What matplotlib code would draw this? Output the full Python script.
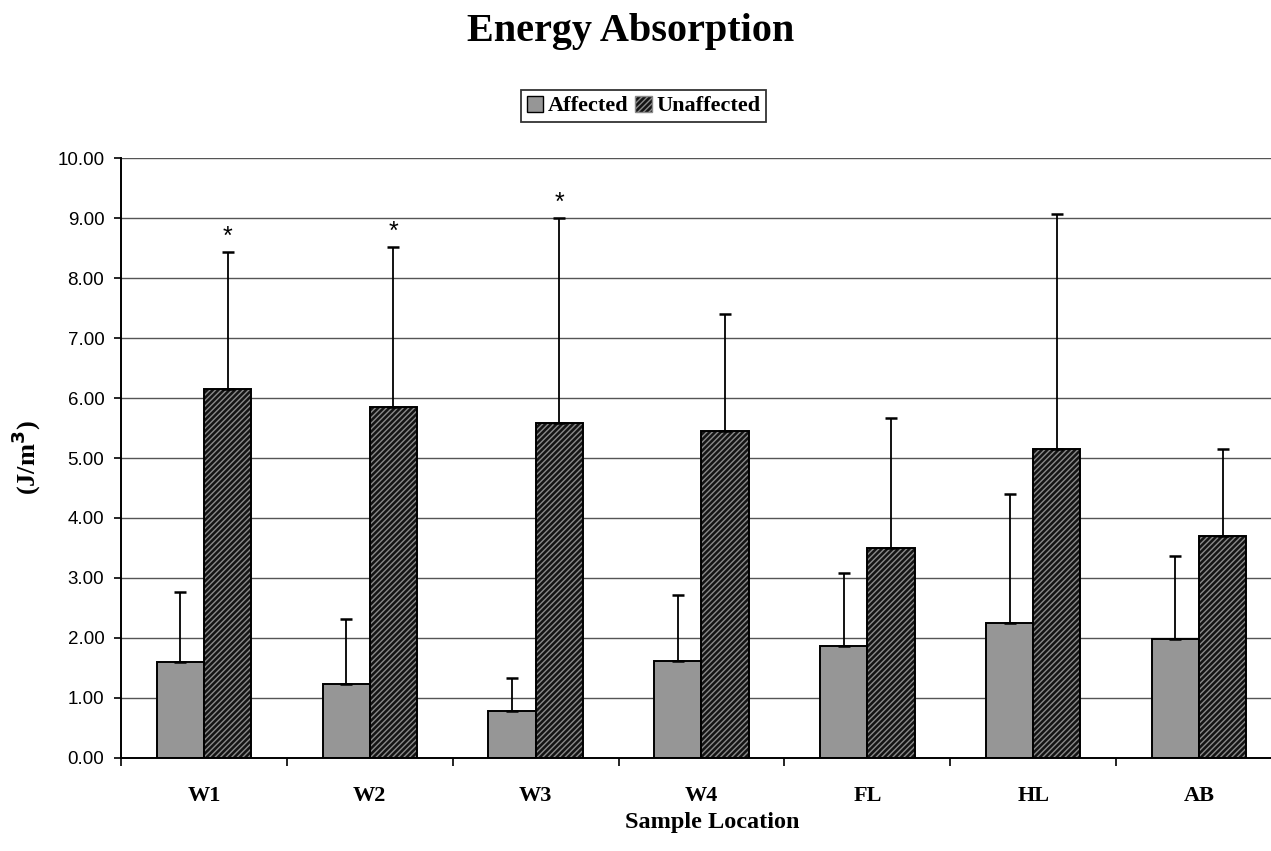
import numpy as np
import matplotlib
matplotlib.use('Agg')
import matplotlib.pyplot as plt
from matplotlib.patches import Patch

locations = ['W1', 'W2', 'W3', 'W4', 'FL', 'HL', 'AB']
affected = [1.60, 1.23, 0.78, 1.62, 1.87, 2.25, 1.98]
affected_err = [1.16, 1.08, 0.55, 1.10, 1.21, 2.15, 1.39]
unaffected = [6.15, 5.85, 5.58, 5.45, 3.50, 5.15, 3.70]
unaffected_err = [2.28, 2.67, 3.42, 1.95, 2.16, 3.92, 1.45]
significant = [True, True, True, False, False, False, False]

serif = 'Liberation Serif'
sans = 'Liberation Sans'
plt.rcParams['hatch.linewidth'] = 1.0

fig = plt.figure(figsize=(12.71, 8.51), dpi=100)
ax = fig.add_axes([121/1271, 1 - 758/851, 1161/1271, 600/851])

x = np.arange(len(locations))
w = 0.285

ax.set_axisbelow(True)
ax.yaxis.grid(True, color='#555555', lw=1)

# affected bars
ax.bar(x - w/2, affected, w, color='#969696', edgecolor='black', lw=1.4, zorder=2)
ax.errorbar(x - w/2, affected, yerr=[np.zeros(len(x)), affected_err], fmt='none',
            ecolor='black', elinewidth=1.3, capsize=4.5, capthick=1.8, zorder=3)

# unaffected bars: hatch first, outline on top
ax.bar(x + w/2, unaffected, w, color='#141414', edgecolor='#8a8a8a', hatch='//////', lw=0, zorder=2)
ax.bar(x + w/2, unaffected, w, color='none', edgecolor='black', lw=1.4, zorder=2)
ax.errorbar(x + w/2, unaffected, yerr=[np.zeros(len(x)), unaffected_err], fmt='none',
            ecolor='black', elinewidth=1.3, capsize=4.5, capthick=1.8, zorder=3)

for i in range(len(locations)):
    if significant[i]:
        ax.text(x[i] + w/2, unaffected[i] + unaffected_err[i] + 0.05, '*', ha='center', va='bottom',
                fontsize=18, family=sans)

ax.set_xlim(-0.5, len(locations) - 0.5)
ax.set_ylim(0, 10)
ax.set_yticks(np.arange(0, 10.5, 1))
ax.set_yticklabels(['%.2f' % v for v in np.arange(0, 10.5, 1)], fontsize=13.5, family=sans)
ax.tick_params(axis='y', length=5, width=1.2, pad=7)

ax.set_xticks(x)
ax.set_xticklabels(locations, fontsize=16, fontweight='bold', family=serif)
ax.set_xticks(np.arange(-0.5, len(locations), 1), minor=True)
ax.tick_params(axis='x', which='major', length=0, pad=20)
ax.tick_params(axis='x', which='minor', length=6, width=1.2)

for s in ['top', 'right']:
    ax.spines[s].set_visible(False)
ax.spines['left'].set_linewidth(1.4)
ax.spines['bottom'].set_linewidth(1.4)

ax.set_xlabel('Sample Location', fontsize=17.5, fontweight='bold', family=serif)
ax.xaxis.set_label_coords((712 - 121) / 1161, -54 / 600)
ax.set_ylabel('(J/m$^\\mathbf{3}$)', fontsize=19, fontweight='bold', family=serif)
ax.yaxis.set_label_coords(-78 / 1161, 0.5)

fig.text(631/1271, 1 - 31/851, 'Energy Absorption', ha='center', va='center',
         fontsize=29, fontweight='bold', family=serif)

handles = [Patch(facecolor='#969696', edgecolor='black', label='Affected'),
           Patch(facecolor='#141414', edgecolor='#8a8a8a', hatch='//////', label='Unaffected')]
leg = fig.legend(handles=handles, loc='center', bbox_to_anchor=(643.5/1271, 1 - 106/851), ncol=2,
                 frameon=True, fancybox=False, edgecolor='black', handlelength=0.75, handleheight=0.75,
                 handletextpad=0.2, columnspacing=0.3, borderpad=0.25,
                 prop={'family': serif, 'weight': 'bold', 'size': 16})
leg.get_frame().set_linewidth(1.3)

fig.savefig('out.png', dpi=100)
